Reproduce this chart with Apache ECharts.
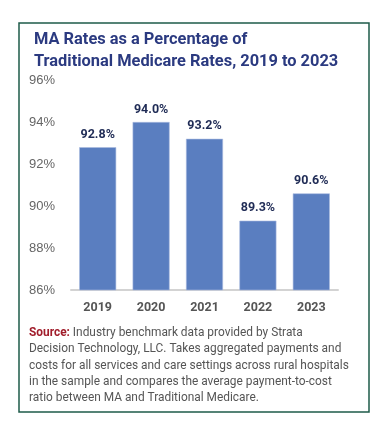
<!DOCTYPE html>
<html>
<head>
<meta charset="utf-8">
<script src="https://cdn.jsdelivr.net/npm/echarts@6/dist/echarts.min.js"></script>
<style>
html,body{margin:0;padding:0;background:#fff;}
#chart{width:373px;height:424px;}
</style>
</head>
<body>
<div id="chart"></div>
<script>
const categories = ['2019', '2020', '2021', '2022', '2023'];
const values = [92.8, 94.0, 93.2, 89.3, 90.6];
const yMin = 86, yMax = 96, yStep = 2;
const titleLines = ['MA Rates as a Percentage of', 'Traditional Medicare Rates, 2019 to 2023'];
const sourceLabel = 'Source:';
const sourceLines = [
  ' Industry benchmark data provided by Strata',
  'Decision Technology, LLC. Takes aggregated payments and',
  'costs for all services and care settings across rural hospitals',
  'in the sample and compares the average payment-to-cost',
  'ratio between MA and Traditional Medicare.'
];

const chart = echarts.init(document.getElementById('chart'), null, {renderer: 'canvas'});
const option = {
  animation: false,
  backgroundColor: '#ffffff',
  title: {
    text: titleLines.join('\n'),
    left: 29, top: 24,
    textStyle: {
      fontFamily: 'Roboto', fontWeight: 'bold', fontSize: 16.4,
      color: '#2b3a80', lineHeight: 22
    }
  },
  grid: {left: 71, right: 35, top: 80, bottom: 134, containLabel: false},
  xAxis: {
    type: 'category',
    data: categories,
    axisLine: {lineStyle: {color: '#d3d3d3', width: 2}},
    axisTick: {show: false},
    axisLabel: {
      color: '#555555', fontFamily: 'Roboto', fontWeight: 'bold', fontSize: 12.5, margin: 11
    }
  },
  yAxis: {
    type: 'value',
    min: yMin, max: yMax, interval: yStep,
    splitLine: {show: false},
    axisLine: {show: false},
    axisTick: {show: false},
    axisLabel: {
      color: '#666666', fontFamily: 'Liberation Sans', fontSize: 13, margin: 16,
      formatter: v => v + '%'
    }
  },
  series: [{
    type: 'bar',
    data: values,
    barWidth: 37,
    itemStyle: {color: '#5a7ec0', borderColor: '#a9bbdf', borderWidth: 0.6},
    label: {
      show: true, position: 'top', distance: 6,
      color: '#1f2b55', fontFamily: 'Roboto', fontWeight: 'bold', fontSize: 12.5,
      formatter: p => p.value.toFixed(1) + '%'
    }
  }],
  graphic: [
    {
      type: 'rect', left: 16.5, top: 20.5, silent: true,
      shape: {width: 350, height: 389},
      style: {fill: 'none', stroke: '#1e5b49', lineWidth: 1.5}
    },
    {
      type: 'text', left: 29, top: 325,
      style: {
        text: '{s|' + sourceLabel + '}' + sourceLines[0] + '\n' + sourceLines.slice(1).join('\n'),
        fontFamily: 'Roboto', fontSize: 11.9, fill: '#555555', lineHeight: 16.3,
        rich: {
          s: {fontFamily: 'Roboto', fontWeight: 'bold', fontSize: 11.9, fill: '#a11d2b', lineHeight: 16.3}
        }
      }
    }
  ]
};
chart.setOption(option);
</script>
</body>
</html>
